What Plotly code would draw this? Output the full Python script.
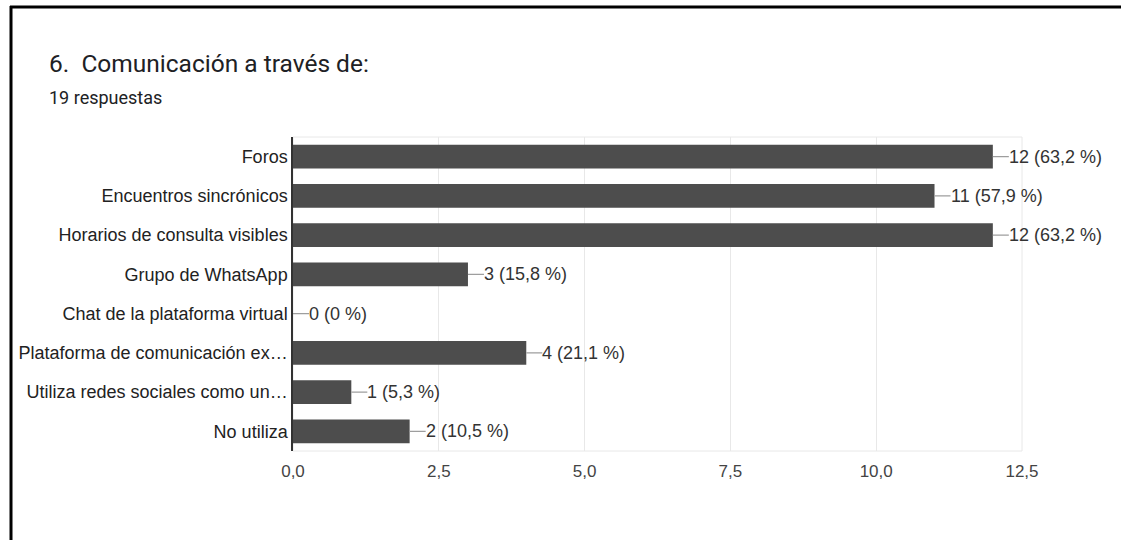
import plotly.graph_objects as go

categories = ["Foros", "Encuentros sincrónicos", "Horarios de consulta visibles",
              "Grupo de WhatsApp", "Chat de la plataforma virtual",
              "Plataforma de comunicación ex…", "Utiliza redes sociales como un…",
              "No utiliza"]
counts = [12, 11, 12, 3, 0, 4, 1, 2]
percents = ["63,2", "57,9", "63,2", "15,8", "0", "21,1", "5,3", "10,5"]
tick_vals = [0, 2.5, 5, 7.5, 10, 12.5]
tick_text = ["0,0", "2,5", "5,0", "7,5", "10,0", "12,5"]

W, H = 1121, 540
L, T = 293, 137
R = W - 1022
B = H - 451
pw, ph = W - L - R, H - T - B

def px_x(p):
    return (p - L) / pw

def px_y(p):
    return (H - B - p) / ph

font = "Liberation Sans, Arial, sans-serif"

fig = go.Figure()
fig.add_trace(go.Bar(
    y=categories, x=counts, orientation="h",
    marker=dict(color="#4d4d4d", line=dict(width=0)),
    hoverinfo="skip",
))

annotations = []
for c, v, p in zip(categories, counts, percents):
    annotations.append(dict(
        x=v, y=c, xref="x", yref="y",
        text=f"{v} ({p} %)", showarrow=True, arrowhead=0, arrowwidth=1.2,
        arrowcolor="#9e9e9e", ax=16, ay=0, xanchor="left", yanchor="middle",
        standoff=0, startstandoff=0, borderpad=0, borderwidth=0,
        font=dict(family=font, size=18, color="#333333"),
    ))

annotations.append(dict(
    x=px_x(47), y=px_y(63), xref="paper", yref="paper", xanchor="left", yanchor="middle",
    text="6.  Comunicación a través de:", showarrow=False,
    font=dict(family="Roboto, sans-serif", size=24.5, color="#202124"),
))
annotations.append(dict(
    x=px_x(47), y=px_y(97), xref="paper", yref="paper", xanchor="left", yanchor="middle",
    text="19 respuestas", showarrow=False,
    font=dict(family="Roboto, sans-serif", size=18, color="#202124"),
))

shapes = [
    dict(type="line", xref="paper", yref="paper", x0=px_x(10), x1=px_x(1130),
         y0=px_y(7), y1=px_y(7), line=dict(color="#000000", width=3)),
    dict(type="line", xref="paper", yref="paper", x0=px_x(11), x1=px_x(11),
         y0=px_y(6), y1=px_y(550), line=dict(color="#000000", width=3)),
    dict(type="rect", xref="paper", yref="paper", x0=0, x1=1, y0=0, y1=1,
         line=dict(color="#e8e8e8", width=1), layer="below"),
]

fig.update_layout(
    width=W, height=H, margin=dict(l=L, r=R, t=T, b=B),
    paper_bgcolor="white", plot_bgcolor="white",
    showlegend=False, bargap=0.39,
    annotations=annotations, shapes=shapes,
    separators=",.",
    xaxis=dict(range=[0, 12.5], tickvals=tick_vals, ticktext=tick_text,
               showgrid=True, gridcolor="#e8e8e8", gridwidth=1, zeroline=False,
               showline=False, ticks="outside", ticklen=5, tickcolor="rgba(0,0,0,0)",
               tickfont=dict(family=font, size=17, color="#444444"), fixedrange=True),
    yaxis=dict(autorange="reversed", showgrid=False, zeroline=False,
               showline=True, linecolor="#333333", linewidth=1.5,
               ticks="",
               tickfont=dict(family=font, size=18, color="#222222"), fixedrange=True),
)

fig.write_html("out.html", config={"displayModeBar": False},
               post_script="document.body.style.margin='0';document.body.style.overflow='hidden';")
